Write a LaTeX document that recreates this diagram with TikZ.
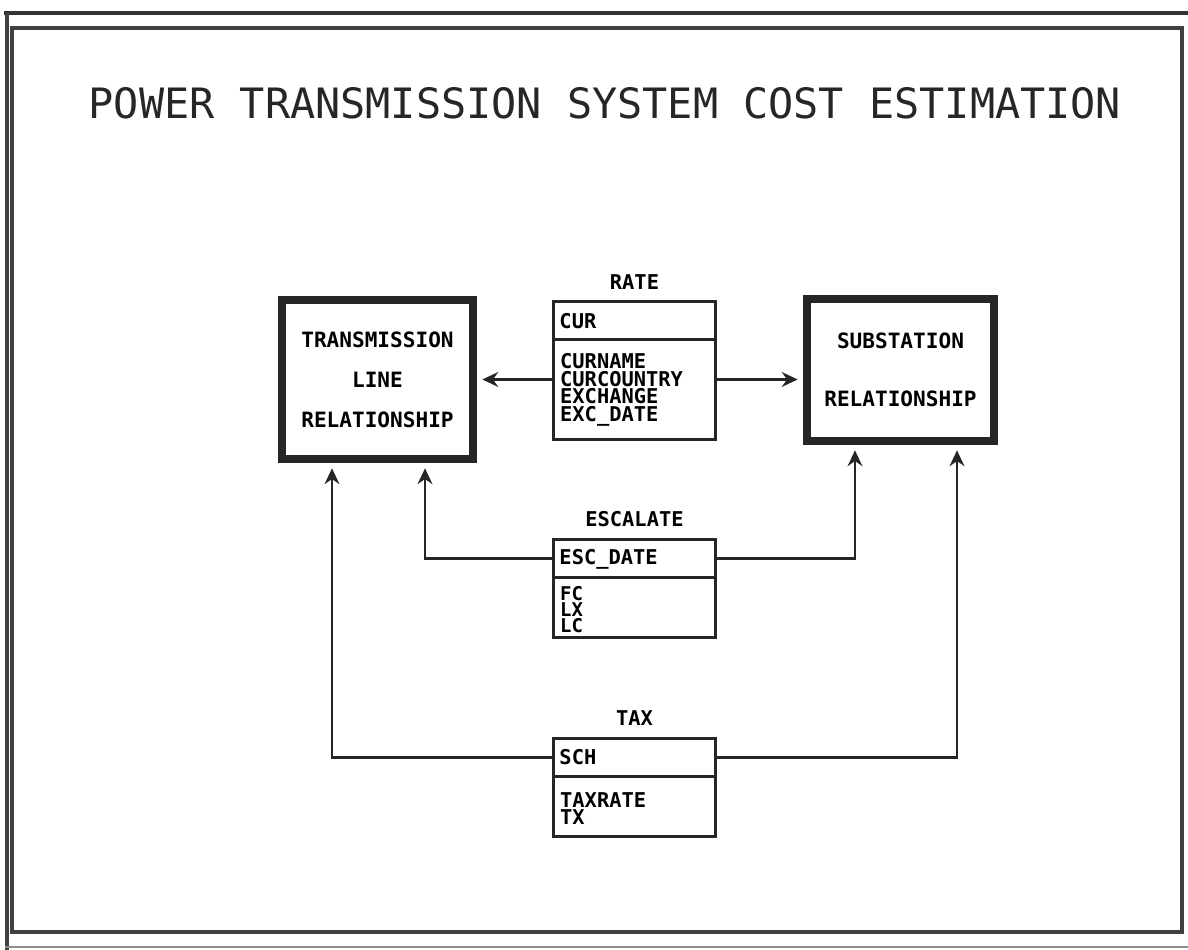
\documentclass[tikz,border=0pt]{standalone}
\usepackage{fontspec}
\newfontfamily\plotfont{DejaVu Sans Mono}
\newcommand\tightlines{\lineskiplimit=-20pt}
\usetikzlibrary{arrows.meta,positioning}

\begin{document}
\begin{tikzpicture}[
  ink/.style={draw=black!85},
  rel/.style={ink, line width=2.3pt, align=center, font=\plotfont\bfseries\fontsize{6}{11.4}\selectfont},
  keybox/.style={ink, line width=0.85pt, outer sep=0pt, inner sep=0pt, minimum width=1.62cm, minimum height=0.38cm, text width=1.5cm, align=left, font=\plotfont\bfseries\fontsize{5.8}{7}\selectfont},
  bodybox/.style={ink, line width=0.85pt, outer sep=0pt, inner sep=0pt, minimum width=1.62cm},
  fields/.style={inner sep=0pt, anchor=north west, align=left, font=\plotfont\bfseries\fontsize{5.8}{5}\selectfont\tightlines},
  ent/.style={inner sep=0pt, font=\plotfont\bfseries\fontsize{5.8}{7}\selectfont},
  arr/.style={-{Stealth[length=4.5pt, width=4.2pt]}, draw=black!85, line width=0.85pt, shorten >=1.5pt}
]
\useasboundingbox (0,0) rectangle (11.88,9.5);

% frame
\draw[line width=1.4pt, black!80] (0.04,9.37) -- (11.88,9.37);
\draw[line width=1pt, black!75] (0.07,9.37) -- (0.07,0);
\draw[line width=0.9pt, black!75] (0.12,0.18) rectangle (11.82,9.22);
\draw[line width=0.5pt, black!45] (0.05,0.03) -- (11.88,0.03);

\node[font=\plotfont\fontsize{11.9}{14}\selectfont, text=black!85] (title) at (6.05,8.47) {POWER TRANSMISSION SYSTEM COST ESTIMATION};

% relationships
\node[rel, minimum width=1.91cm, minimum height=1.59cm] (trans) at (3.775,5.705) {TRANSMISSION\\LINE\\RELATIONSHIP};
\node[rel, minimum width=1.87cm, minimum height=1.42cm, font=\plotfont\bfseries\fontsize{6}{16.5}\selectfont] (sub) at (9.005,5.80) {SUBSTATION\\RELATIONSHIP};

% entities
\node[keybox] (ratekey) at (6.345,6.29) {CUR};
\node[bodybox, minimum height=1.00cm, below=0pt of ratekey] (ratebody) {};
\node[fields] (ratefld) at ([xshift=0.06cm, yshift=-0.13cm]ratebody.north west) {CURNAME\\CURCOUNTRY\\EXCHANGE\\EXC\_DATE};
\node[ent, above=1.2mm of ratekey] (ratelbl) {RATE};

\node[keybox] (esckey) at (6.345,3.91) {ESC\_DATE};
\node[bodybox, minimum height=0.60cm, below=0pt of esckey] (escbody) {};
\node[fields, font=\plotfont\bfseries\fontsize{5.4}{4.5}\selectfont\tightlines] (escfld) at ([xshift=0.06cm, yshift=-0.08cm]escbody.north west) {FC\\LX\\LC};
\node[ent, above=1.2mm of esckey] (esclbl) {ESCALATE};

\node[keybox] (taxkey) at (6.345,1.925) {SCH};
\node[bodybox, minimum height=0.60cm, below=0pt of taxkey] (taxbody) {};
\node[fields] (taxfld) at ([xshift=0.06cm, yshift=-0.15cm]taxbody.north west) {TAXRATE\\TX};
\node[ent, above=1.2mm of taxkey] (taxlbl) {TAX};

% connectors
\draw[arr] (trans.east -| ratebody.west) -- (trans.east);
\draw[arr] (trans.east -| ratebody.east) -- (trans.east -| sub.west);
\draw[arr] (esckey.west) -| ([xshift=0.475cm]trans.south);
\draw[arr] (esckey.east) -| ([xshift=-0.455cm]sub.south);
\draw[arr] (taxkey.west) -| ([xshift=-0.455cm]trans.south);
\draw[arr] (taxkey.east) -| ([xshift=0.565cm]sub.south);
\end{tikzpicture}
\end{document}
